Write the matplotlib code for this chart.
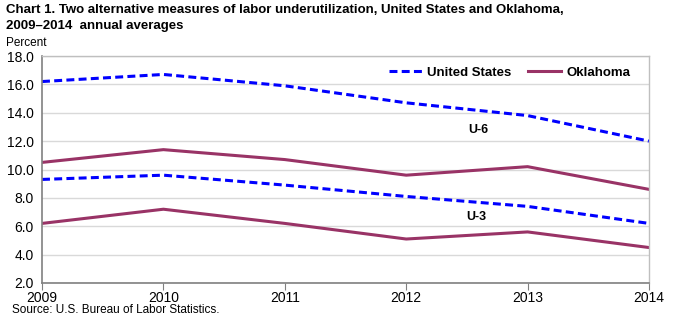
import matplotlib
matplotlib.use("Agg")
import matplotlib.pyplot as plt
from matplotlib.lines import Line2D

years = [2009, 2010, 2011, 2012, 2013, 2014]
us_u6 = [16.2, 16.7, 15.9, 14.7, 13.8, 12.0]
us_u3 = [9.3, 9.6, 8.9, 8.1, 7.4, 6.2]
ok_u6 = [10.5, 11.4, 10.7, 9.6, 10.2, 8.6]
ok_u3 = [6.2, 7.2, 6.2, 5.1, 5.6, 4.5]
yticks = [2.0, 4.0, 6.0, 8.0, 10.0, 12.0, 14.0, 16.0, 18.0]

plt.rcParams['font.family'] = ['Liberation Sans', 'DejaVu Sans']

W, H = 673, 323
fig = plt.figure(figsize=(W / 100, H / 100), dpi=100)
ax = fig.add_axes([42 / W, 1 - 283 / H, (649 - 42) / W, (283 - 56) / H])

blue = '#0000FF'
plum = '#993366'
lw = 2.2
dash = (0, (2.6, 1.4))

ax.plot(years, us_u6, color=blue, lw=lw, linestyle=dash)
ax.plot(years, us_u3, color=blue, lw=lw, linestyle=dash)
ax.plot(years, ok_u6, color=plum, lw=lw)
ax.plot(years, ok_u3, color=plum, lw=lw)

ax.set_xlim(2009, 2014)
ax.set_ylim(2.0, 18.0)
ax.set_yticks(yticks)
ax.set_yticklabels([f"{v:.1f}" for v in yticks], fontsize=10)
ax.set_xticks(years)
ax.set_xticklabels([str(y) for y in years], fontsize=10)
ax.grid(axis='y', color='#D9D9D9', lw=1)
ax.set_axisbelow(True)
ax.tick_params(axis='y', length=0, pad=6)
ax.tick_params(axis='x', length=5, color='#808080', pad=1)
for s in ['left', 'bottom']:
    ax.spines[s].set_color('#808080')
    ax.spines[s].set_linewidth(1.2)
for s in ['top', 'right']:
    ax.spines[s].set_color('#BFBFBF')
    ax.spines[s].set_linewidth(1)

ax.text(2012.59, 12.8, 'U-6', fontsize=9, fontweight='bold', ha='center', va='center')
ax.text(2012.58, 6.65, 'U-3', fontsize=9, fontweight='bold', ha='center', va='center')

handles = [Line2D([], [], color=blue, lw=lw, linestyle=dash),
           Line2D([], [], color=plum, lw=lw)]
leg = ax.legend(handles, ['United States', 'Oklahoma'], loc='upper right',
                bbox_to_anchor=(0.989, 1.005), ncol=2, frameon=False,
                prop={'size': 9.5, 'weight': 'bold'}, handlelength=2.5,
                columnspacing=1.3, handletextpad=0.4)

fig.text(6 / W, 1 - 10 / H,
         'Chart 1. Two alternative measures of labor underutilization, United States and Oklahoma,',
         fontsize=9.5, fontweight='bold', va='center', ha='left')
fig.text(6 / W, 1 - 26 / H, '2009\u20132014  annual averages',
         fontsize=9.5, fontweight='bold', va='center', ha='left')
fig.text(6 / W, 1 - 43 / H, 'Percent', fontsize=8.5, va='center', ha='left')
fig.text(12 / W, 1 - 310 / H, 'Source: U.S. Bureau of Labor Statistics.',
         fontsize=8.5, va='center', ha='left')

fig.savefig('out.png', dpi=100)
